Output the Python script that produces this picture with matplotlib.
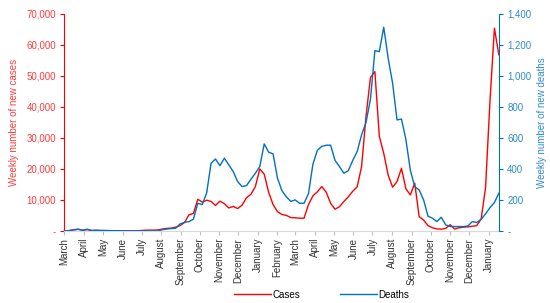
import pandas as pd
import matplotlib
matplotlib.use('Agg')
import matplotlib.pyplot as plt
from matplotlib.ticker import FuncFormatter, MultipleLocator

plt.rcParams['font.family'] = ['Liberation Sans', 'DejaVu Sans']

# weekly data, first week starting 2 March 2020
weeks = pd.date_range('2020-03-02', periods=99, freq='7D')

cases = [0, 100, 300, 500, 200, 400, 100, 150, 100, 50,
         50, 30, 20, 20, 20, 20, 20, 100, 200, 250,
         250, 300, 600, 800, 900, 1200, 1700, 2700, 5200, 5600,
         10200, 9300, 9900, 9500, 8200, 9600, 8800, 7400, 7900, 7200,
         8300, 10700, 11800, 14300, 20000, 18300, 12500, 8500, 6200, 5300,
         5000, 4300, 4200, 4100, 4100, 8500, 11300, 12600, 14300, 12500,
         8900, 7000, 7800, 9500, 11000, 12800, 14200, 20800, 37000, 49500,
         51400, 30500, 25000, 18000, 14100, 15900, 20200, 13600, 11600, 15400,
         4600, 3500, 1700, 1000, 650, 550, 800, 2000, 600, 1000,
         1200, 1300, 1500, 1700, 3800, 14000, 42000, 65400, 56800]

deaths = [0, 2, 8, 11, 4, 11, 3, 4, 3, 3,
          2, 1, 1, 0, 0, 0, 0, 0, 0, 0,
          0, 0, 8, 12, 15, 17, 45, 55, 60, 75,
          178, 170, 245, 437, 464, 421, 469, 426, 383, 318,
          286, 292, 333, 372, 415, 561, 508, 497, 340, 260,
          220, 190, 200, 178, 178, 240, 430, 520, 545, 553,
          553, 455, 415, 372, 389, 455, 512, 620, 700, 850,
          1163, 1157, 1314, 1114, 953, 716, 722, 590, 393, 286,
          264, 200, 95, 82, 60, 88, 39, 28, 28, 28,
          28, 32, 60, 54, 75, 110, 150, 183, 243]

month_ticks = pd.date_range('2020-03-01', '2022-01-01', freq='MS')
month_labels = [d.strftime('%B') for d in month_ticks]

red = '#FF0000'
red_txt = '#FF3B3B'
blue = '#0070C0'
blue_txt = '#2E8BD0'

fig = plt.figure(figsize=(5.5, 3.03), dpi=100)
ax = fig.add_axes([0.117, 0.238, 0.790, 0.716])
ax2 = ax.twinx()

l1, = ax.plot(weeks, cases, color=red, lw=1.0, label='Cases')
l2, = ax2.plot(weeks, deaths, color=blue, lw=1.0, label='Deaths')

ax.set_xlim(pd.Timestamp('2020-03-01'), weeks[-1])
ax.set_ylim(0, 70000)
ax2.set_ylim(0, 1400)
ax.yaxis.set_major_locator(MultipleLocator(10000))
ax2.yaxis.set_major_locator(MultipleLocator(200))

fmt = FuncFormatter(lambda v, p: '-' if v == 0 else f'{v:,.0f}')
ax.yaxis.set_major_formatter(fmt)
ax2.yaxis.set_major_formatter(fmt)

ax.set_xticks(month_ticks)
ax.set_xticklabels(month_labels, rotation=90, fontsize=7, color='#333333')
ax.tick_params(axis='x', length=3, color='#BFBFBF', pad=2)
ax.tick_params(axis='y', colors=red_txt, labelsize=7, length=3, pad=3)
ax2.tick_params(axis='y', colors=blue_txt, labelsize=7, length=3, pad=3)
for lab in ax.get_yticklabels():
    lab.set_color(red_txt)
for lab in ax2.get_yticklabels():
    lab.set_color(blue_txt)

for a in (ax, ax2):
    a.spines['top'].set_visible(False)
ax.spines['left'].set_color(red)
ax.spines['right'].set_visible(False)
ax2.spines['left'].set_visible(False)
ax2.spines['right'].set_color(blue)
ax2.spines['bottom'].set_visible(False)
ax.spines['bottom'].set_color('#D9D9D9')
ax.tick_params(axis='y', color=red)
ax2.tick_params(axis='y', color=blue)

ax.set_ylabel('Weekly number of new cases', color=red_txt, fontsize=7, labelpad=5)
ax2.set_ylabel('Weekly number of new deaths', color=blue_txt, fontsize=7, labelpad=4)

fig.legend(handles=[l1, l2], loc='center', bbox_to_anchor=(0.585, 0.027), ncol=2,
           frameon=False, fontsize=7, handlelength=3.8, columnspacing=4, handletextpad=0.2)

fig.savefig('out.png', dpi=100)
